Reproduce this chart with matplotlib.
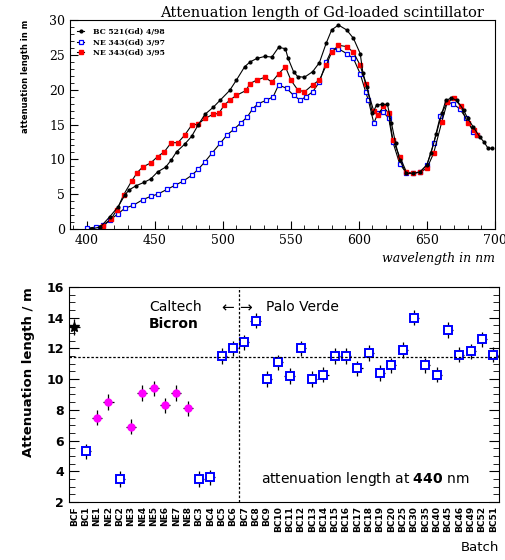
import numpy as np
import matplotlib
matplotlib.use("Agg")
import matplotlib.pyplot as plt
from matplotlib.ticker import MultipleLocator

# ---------------------------------------------------------
# Top panel: attenuation length vs wavelength
# ---------------------------------------------------------
wl_bc521 = [403, 410, 417, 423, 428, 431, 436, 442, 447, 452, 458, 462, 466, 472, 477,
            482, 487, 493, 498, 505, 510, 516, 520, 525, 531, 536, 541, 546, 548, 552,
            555, 560, 566, 571, 576, 580, 585, 591, 596, 601, 603, 606, 610, 613, 617,
            621, 624, 627, 630, 635, 640, 645, 650, 653, 657, 661, 664, 668, 672, 677,
            680, 684, 689, 692, 695, 698]
att_bc521 = [0.0, 0.3, 1.8, 3.2, 4.9, 5.6, 6.2, 6.7, 7.2, 8.2, 8.9, 9.9, 11.1, 12.2, 13.3,
             15.0, 16.5, 17.5, 18.5, 19.9, 21.4, 23.3, 24.0, 24.5, 24.8, 24.7, 26.1, 25.9, 24.5, 22.6,
             21.9, 21.8, 22.6, 23.9, 26.7, 28.6, 29.3, 28.6, 27.4, 25.2, 22.4, 20.4, 16.6, 17.8, 17.9,
             17.9, 15.2, 12.3, 9.9, 8.0, 8.0, 8.2, 9.2, 10.9, 13.7, 16.6, 18.5, 18.8, 18.5, 17.1,
             15.9, 14.7, 13.2, 12.5, 11.6, 11.6]

wl_ne95 = [412, 418, 422, 427, 433, 437, 441, 447, 452, 457, 462, 467, 472, 477, 482,
           487, 493, 497, 501, 505, 510, 517, 520, 525, 531, 536, 541, 546, 550, 555,
           560, 566, 571, 576, 580, 585, 591, 596, 601, 605, 611, 614, 618, 622, 625,
           630, 635, 640, 645, 650, 655, 661, 665, 670, 675, 680, 685, 687]
att_ne95 = [0.4, 1.5, 2.7, 4.9, 6.9, 8.1, 8.9, 9.5, 10.4, 11.1, 12.4, 12.4, 13.5, 14.9, 15.1,
            15.9, 16.5, 16.6, 17.8, 18.5, 19.2, 19.9, 20.9, 21.4, 21.8, 21.1, 22.3, 23.3, 21.4, 20.0,
            19.7, 20.7, 21.4, 23.5, 25.4, 26.4, 26.2, 25.4, 23.5, 20.9, 16.9, 16.4, 17.6, 16.6, 12.8,
            10.4, 8.2, 8.0, 8.2, 8.7, 10.9, 15.4, 18.2, 18.8, 17.6, 15.2, 14.2, 13.5]

wl_ne97 = [400, 407, 412, 417, 423, 428, 434, 441, 447, 452, 459, 465, 471, 477, 482,
           487, 492, 498, 503, 508, 513, 518, 522, 526, 532, 537, 541, 547, 552, 557,
           561, 566, 571, 576, 580, 585, 591, 596, 601, 605, 607, 611, 614, 618, 622,
           625, 630, 635, 640, 645, 650, 655, 660, 665, 669, 674, 679, 684, 687]
att_ne97 = [0.1, 0.3, 0.6, 1.3, 2.2, 3.0, 3.4, 4.2, 4.7, 5.0, 5.7, 6.3, 6.9, 7.7, 8.6,
            9.7, 10.9, 12.3, 13.5, 14.3, 15.2, 16.1, 17.3, 18.0, 18.5, 19.0, 20.7, 20.2, 19.2, 18.5,
            19.0, 19.7, 21.1, 24.0, 25.7, 25.9, 25.2, 24.5, 22.3, 19.7, 18.5, 15.2, 16.6, 16.8, 15.9,
            12.5, 9.4, 8.0, 8.0, 8.2, 9.2, 12.3, 16.3, 18.2, 18.0, 17.3, 15.9, 14.0, 13.5]

legend_labels = ["BC 521(Gd) 4/98", "NE 343(Gd) 3/97", "NE 343(Gd) 3/95"]

# ---------------------------------------------------------
# Bottom panel: attenuation length at 440 nm per batch
# ---------------------------------------------------------
batches = ["BCF", "BC1", "NE1", "NE2", "BC2", "NE3", "NE4", "NE5", "NE6", "NE7", "NE8",
           "BC3", "BC4", "BC5", "BC6", "BC7", "BC8", "BC9", "BC10", "BC11", "BC12", "BC13",
           "BC14", "BC15", "BC16", "BC17", "BC18", "BC19", "BC20", "BC25", "BC30", "BC35",
           "BC40", "BC45", "BC46", "BC49", "BC52", "BC51"]
att440 = [13.4, 5.3, 7.5, 8.5, 3.5, 6.9, 9.1, 9.4, 8.3, 9.1, 8.1,
          3.5, 3.6, 11.5, 12.0, 12.4, 13.8, 10.0, 11.1, 10.2, 12.0, 10.0,
          10.3, 11.5, 11.5, 10.7, 11.7, 10.4, 10.9, 11.9, 14.0, 10.9,
          10.3, 13.2, 11.6, 11.8, 12.6, 11.6]
att440_err = [0.5] * len(batches)
ne_batches = [2, 3, 5, 6, 7, 8, 9, 10]
mean_att = 11.45

fig = plt.figure(figsize=(5.06, 5.60), dpi=100)

# ---- top ----
ax1 = fig.add_axes([0.138, 0.591, 0.840, 0.373])
ax1.plot(wl_ne97, att_ne97, color="black", lw=0.8, marker="s", ms=2.8,
         mfc="white", mec="blue", mew=0.9, label=legend_labels[1])
ax1.plot(wl_ne95, att_ne95, color="black", lw=0.8, marker="s", ms=2.8,
         mfc="red", mec="red", label=legend_labels[2])
ax1.plot(wl_bc521, att_bc521, color="black", lw=0.8, marker="o", ms=2,
         mfc="black", mec="black", label=legend_labels[0])
ax1.set_xlim(387.5, 700)
ax1.set_ylim(0, 30)
ax1.xaxis.set_major_locator(MultipleLocator(50))
ax1.xaxis.set_minor_locator(MultipleLocator(10))
ax1.yaxis.set_major_locator(MultipleLocator(5))
ax1.yaxis.set_minor_locator(MultipleLocator(1))
ax1.tick_params(which="both", direction="in", top=False, right=False, labelsize=9)
ax1.tick_params(which="major", length=6)
ax1.tick_params(which="minor", length=3)
for lab in ax1.get_xticklabels() + ax1.get_yticklabels():
    lab.set_family("DejaVu Serif")
ax1.set_title("Attenuation length of Gd-loaded scintillator", family="DejaVu Serif",
              fontsize=10.5, loc="right", pad=2, x=0.975)
ax1.set_xlabel("wavelength in nm", family="DejaVu Serif", style="italic", fontsize=9,
               loc="right", labelpad=4)
ax1.set_ylabel("attenuation length in m", fontsize=6, loc="top", labelpad=14, weight="bold")
handles, labels = ax1.get_legend_handles_labels()
order = [2, 0, 1]
ax1.legend([handles[i] for i in order], [labels[i] for i in order], loc="upper left",
           frameon=False, handlelength=0.8, handletextpad=1.2,
           labelspacing=0.35, borderaxespad=0.6,
           prop={"family": "DejaVu Serif", "size": 5.5, "weight": "bold"})

# ---- bottom ----
ax2 = fig.add_axes([0.136, 0.1036, 0.850, 0.3839])
x = np.arange(len(batches))
is_ne = np.isin(x, ne_batches)
vals = np.array(att440)
errs = np.array(att440_err)

ax2.errorbar(x, vals, yerr=errs, xerr=0.45, fmt="none", ecolor="black", elinewidth=0.9)
ax2.plot(x[0], vals[0], ls="none", marker="*", ms=7, color="black")
sq = ~is_ne
sq[0] = False
ax2.plot(x[sq], vals[sq], ls="none", marker="s", ms=5.5, mfc="white", mec="blue", mew=1.4)
ax2.plot(x[is_ne], vals[is_ne], ls="none", marker="o", ms=5, color="magenta")

ax2.axhline(mean_att, color="black", lw=0.9, ls=(0, (2, 1.5)))
ax2.axvline(14.5, color="black", lw=0.9, ls=(0, (2, 1.5)))

ax2.set_xlim(-0.5, len(batches) - 0.5)
ax2.set_ylim(2, 16)
ax2.set_xticks(x)
ax2.set_xticklabels(batches, rotation=90, fontsize=6.5, weight="bold")
ax2.tick_params(axis="x", length=0, pad=3)
ax2.yaxis.set_major_locator(MultipleLocator(2))
ax2.yaxis.set_minor_locator(MultipleLocator(0.5))
ax2.tick_params(axis="y", which="both", direction="in", left=True, right=True, labelsize=9)
ax2.tick_params(axis="y", which="major", length=7)
ax2.tick_params(axis="y", which="minor", length=4)
for lab in ax2.get_yticklabels():
    lab.set_weight("bold")
ax2.set_ylabel("Attenuation length / m", fontsize=9.5, weight="bold", loc="top", labelpad=8)
ax2.set_xlabel("Batch", fontsize=9.5, loc="right", labelpad=6)

ax2.text(0.187, 0.905, "Caltech", transform=ax2.transAxes, fontsize=10, va="center")
ax2.text(0.187, 0.826, "Bicron", transform=ax2.transAxes, fontsize=10, weight="bold", va="center")
ax2.text(0.355, 0.905, "\u2190", transform=ax2.transAxes, fontsize=11, va="center")
ax2.text(0.395, 0.905, "\u2192", transform=ax2.transAxes, fontsize=11, va="center")
ax2.text(0.458, 0.905, "Palo Verde", transform=ax2.transAxes, fontsize=10, va="center")
ax2.text(0.447, 0.107, "attenuation length at $\\mathbf{440}$ nm", transform=ax2.transAxes,
         fontsize=10, va="center")

fig.savefig("out.png", dpi=100)
